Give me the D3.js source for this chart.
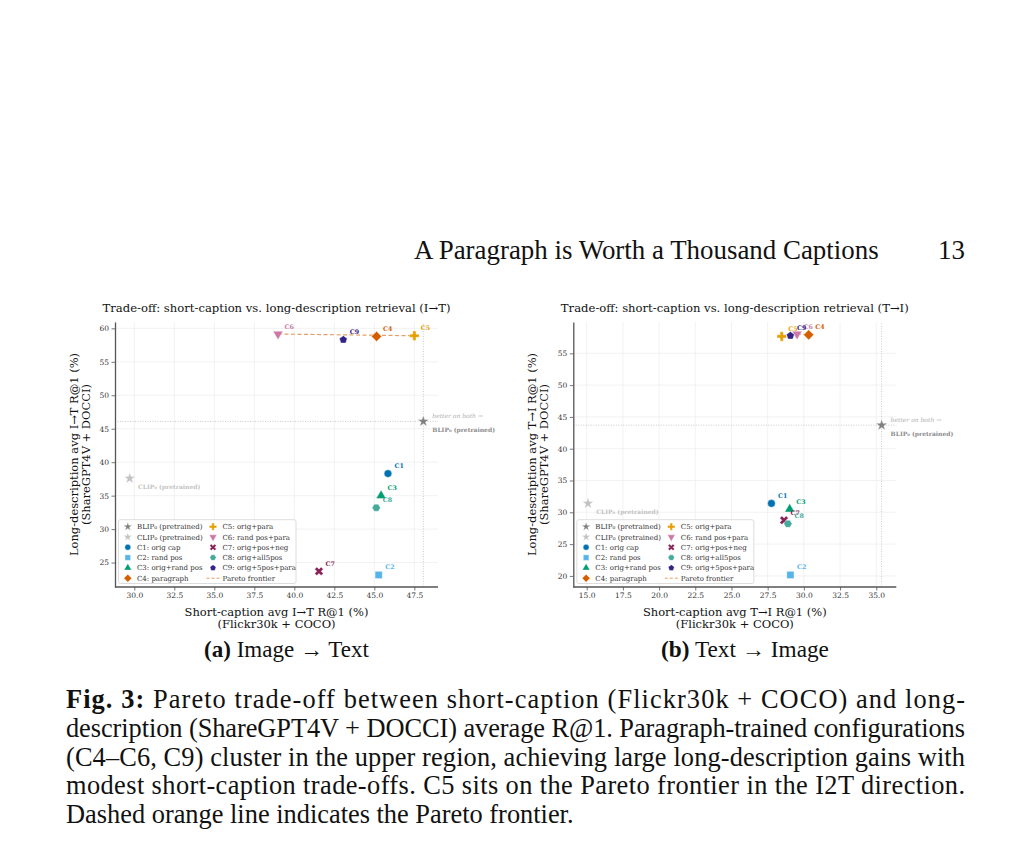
<!DOCTYPE html>
<html>
<head>
<meta charset="utf-8">
<script src="https://cdn.jsdelivr.net/npm/d3@7"></script>
<style>
  body { margin: 0; background: #fff; }
  svg { display: block; }
</style>
</head>
<body>
<div id="page"></div>
<script>
// ---- data ----
var configNames = ["C1", "C2", "C3", "C4", "C5", "C6", "C7", "C8", "C9"];
var configDescs = ["orig cap", "rand pos", "orig+rand pos", "paragraph", "orig+para",
                   "rand pos+para", "orig+pos+neg", "orig+all5pos", "orig+5pos+para"];

// (a) image -> text
var i2tShort = [45.85, 45.27, 45.42, 45.14, 47.50, 38.98, 41.54, 45.12, 43.06];
var i2tLong  = [38.30, 23.15, 35.00, 58.80, 58.90, 59.15, 23.70, 33.20, 58.30];
// (b) text -> image
var t2iShort = [27.76, 29.07, 29.02, 30.33, 28.47, 29.53, 28.63, 28.90, 29.07];
var t2iLong  = [31.40, 20.15, 30.50, 57.90, 57.66, 58.03, 28.75, 28.20, 57.77];

var baseNames = ["BLIP\u2080", "CLIP\u2080"];
var i2tBaseShort = [48.06, 29.71];
var i2tBaseLong  = [46.10, 37.58];
var t2iBaseShort = [35.37, 15.09];
var t2iBaseLong  = [43.70, 31.40];

var xTicksA = [30.0, 32.5, 35.0, 37.5, 40.0, 42.5, 45.0, 47.5];
var yTicksA = [25, 30, 35, 40, 45, 50, 55, 60];
var xTicksB = [15.0, 17.5, 20.0, 22.5, 25.0, 27.5, 30.0, 32.5, 35.0];
var yTicksB = [20, 25, 30, 35, 40, 45, 50, 55];

// ---- styles ----
var configColors = ["#0072B2", "#56B4E9", "#009E73", "#D55E00", "#E69F00",
                    "#CC79A7", "#882255", "#44AA99", "#332288"];
var baseColors = ["#808080", "#c2c2c2"];
var serif = "'DejaVu Serif', serif";
var pageFont = "'Liberation Serif', 'DejaVu Serif', serif";

// regular polygon symbol (pentagon / hexagon)
function polygon(n, startAngle) {
  return {
    draw: function(ctx, size) {
      var r = Math.sqrt(2 * size / (n * Math.sin(2 * Math.PI / n)));
      for (var i = 0; i < n; i++) {
        var a = startAngle + i * 2 * Math.PI / n;
        if (i === 0) ctx.moveTo(r * Math.sin(a), -r * Math.cos(a));
        else ctx.lineTo(r * Math.sin(a), -r * Math.cos(a));
      }
      ctx.closePath();
    }
  };
}

// marker for each config: type, rotation, size
var markers = [
  { type: d3.symbolCircle,   rot: 0,   size: 46 },
  { type: d3.symbolSquare,   rot: 0,   size: 52 },
  { type: d3.symbolTriangle, rot: 0,   size: 42 },
  { type: d3.symbolSquare,   rot: 45,  size: 52 },
  { type: d3.symbolCross,    rot: 0,   size: 50 },
  { type: d3.symbolTriangle, rot: 180, size: 42 },
  { type: d3.symbolCross,    rot: 45,  size: 46 },
  { type: polygon(6, Math.PI / 6), rot: 0, size: 44 },
  { type: polygon(5, 0),     rot: 0,   size: 40 }
];
var starMarker = { type: d3.symbolStar, rot: 0, size: 40 };

var W = 1030, H = 842;
var svg = d3.select("#page").append("svg").attr("width", W).attr("height", H);

function fitSize(sel, target) {
  var w = sel.node().getComputedTextLength();
  var fs = parseFloat(sel.attr("font-size"));
  sel.attr("font-size", fs * target / w);
  return fs * target / w;
}

function padExtent(vals) {
  var e = d3.extent(vals), p = (e[1] - e[0]) * 0.05;
  return [e[0] - p, e[1] + p];
}

function drawMarker(g, m, cx, cy, color, scale) {
  return g.append("path")
    .attr("d", d3.symbol().type(m.type).size(m.size * (scale || 1))())
    .attr("transform", "translate(" + cx + "," + cy + ") rotate(" + m.rot + ")")
    .attr("fill", color)
    .attr("stroke", "#fff")
    .attr("stroke-width", 0.4);
}

// Function to draw one panel
function drawPanel(p) {
  var g = svg.append("g");
  var top = 322, bottom = 587;
  var allX = p.shortV.concat(p.baseShort), allY = p.longV.concat(p.baseLong);
  var x = d3.scaleLinear().domain(padExtent(allX)).range([p.left, p.left + 323]);
  var y = d3.scaleLinear().domain(padExtent(allY)).range([bottom, top]);

  // grid
  g.selectAll(".gx").data(p.xTicks).enter().append("line")
    .attr("x1", function(d) { return x(d); }).attr("x2", function(d) { return x(d); })
    .attr("y1", bottom).attr("y2", top)
    .attr("stroke", "#ececec").attr("stroke-width", 0.7);
  g.selectAll(".gy").data(p.yTicks).enter().append("line")
    .attr("y1", function(d) { return y(d); }).attr("y2", function(d) { return y(d); })
    .attr("x1", p.left).attr("x2", p.left + 323)
    .attr("stroke", "#ececec").attr("stroke-width", 0.7);

  // dotted reference lines through BLIP
  g.append("line")
    .attr("x1", x(p.baseShort[0])).attr("x2", x(p.baseShort[0]))
    .attr("y1", bottom).attr("y2", top)
    .attr("stroke", "#b5b5b5").attr("stroke-width", 0.7).attr("stroke-dasharray", "1,1.5");
  g.append("line")
    .attr("y1", y(p.baseLong[0])).attr("y2", y(p.baseLong[0]))
    .attr("x1", p.left).attr("x2", p.left + 323)
    .attr("stroke", "#b5b5b5").attr("stroke-width", 0.7).attr("stroke-dasharray", "1,1.5");

  // pareto frontier among configs
  var pts = configNames.map(function(n, i) { return { i: i, sx: p.shortV[i], ly: p.longV[i] }; });
  var sorted = pts.slice().sort(function(a, b) { return b.sx - a.sx; });
  var best = -Infinity, front = [];
  sorted.forEach(function(d) { if (d.ly > best) { front.push(d); best = d.ly; } });
  front.sort(function(a, b) { return a.sx - b.sx; });
  g.append("path")
    .attr("d", d3.line().x(function(d) { return x(d.sx); }).y(function(d) { return y(d.ly); })(front))
    .attr("fill", "none").attr("stroke", "#D55E00").attr("stroke-opacity", 0.6)
    .attr("stroke-width", 1.2).attr("stroke-dasharray", "4,2.5");

  // axes
  var xAxis = g.append("g").attr("transform", "translate(0," + bottom + ")")
    .call(d3.axisBottom(x).tickValues(p.xTicks).tickFormat(d3.format(".1f"))
      .tickSize(3.5).tickSizeOuter(0).tickPadding(2.5));
  var yAxis = g.append("g").attr("transform", "translate(" + p.left + ",0)")
    .call(d3.axisLeft(y).tickValues(p.yTicks).tickFormat(d3.format("d"))
      .tickSize(3.5).tickSizeOuter(0).tickPadding(2.5));
  [xAxis, yAxis].forEach(function(a) {
    a.select(".domain").attr("stroke", "#555").attr("stroke-width", 1.3);
    a.selectAll(".tick line").attr("stroke", "#555").attr("stroke-width", 0.8);
    a.selectAll(".tick text").attr("font-family", serif).attr("font-size", 7.5).attr("fill", "#333");
  });
  xAxis.select(".domain").attr("d", "M" + p.left + ",0H" + (p.left + 323));

  // baselines (stars)
  p.baseShort.forEach(function(v, i) {
    drawMarker(g, starMarker, x(v), y(p.baseLong[i]), baseColors[i]);
  });
  // configs
  pts.forEach(function(d) {
    drawMarker(g, markers[d.i], x(d.sx), y(d.ly), configColors[d.i]);
  });
  // config labels
  pts.forEach(function(d) {
    g.append("text")
      .attr("x", x(d.sx) + 6.5).attr("y", y(d.ly) - 5.5)
      .attr("font-family", serif).attr("font-size", 6.3).attr("font-weight", "bold")
      .attr("fill", configColors[d.i])
      .text(configNames[d.i]);
  });
  // baseline annotations
  var bx = x(p.baseShort[0]), by = y(p.baseLong[0]);
  g.append("text").attr("x", bx + 9).attr("y", by - 3)
    .attr("font-family", serif).attr("font-size", 6).attr("font-style", "italic")
    .attr("fill", "#b0b0b0").text("better on both \u2192");
  g.append("text").attr("x", bx + 9).attr("y", by + 11)
    .attr("font-family", serif).attr("font-size", 6).attr("font-weight", "bold")
    .attr("fill", "#8a8a8a").text(baseNames[0] + " (pretrained)");
  var cx = x(p.baseShort[1]), cy = y(p.baseLong[1]);
  g.append("text").attr("x", cx + 8.3).attr("y", cy + 10.5)
    .attr("font-family", serif).attr("font-size", 6).attr("font-weight", "bold")
    .attr("fill", "#c2c2c2").text(baseNames[1] + " (pretrained)");

  // legend
  var lx = p.left + 3.5, ly = 519.7, lw = p.legendW, lh = 63.8;
  var leg = g.append("g");
  leg.append("rect").attr("x", lx).attr("y", ly).attr("width", lw).attr("height", lh)
    .attr("rx", 2).attr("fill", "#fff").attr("fill-opacity", 0.85)
    .attr("stroke", "#d4d4d4").attr("stroke-width", 0.8);
  var rowY = function(r) { return ly + 7 + r * 10.3; };
  var entries = [];
  baseNames.forEach(function(n, i) {
    entries.push({ m: starMarker, c: baseColors[i], t: n + " (pretrained)" });
  });
  configNames.forEach(function(n, i) {
    entries.push({ m: markers[i], c: configColors[i], t: n + ": " + configDescs[i] });
  });
  entries.push({ line: true, t: "Pareto frontier" });
  entries.forEach(function(e, k) {
    var col = k < 6 ? 0 : 1, row = k < 6 ? k : k - 6;
    var mx = lx + (col === 0 ? 9.3 : 94.5), tx = lx + (col === 0 ? 18.5 : 104);
    if (e.line) {
      leg.append("line").attr("x1", mx - 6.5).attr("x2", mx + 6.5)
        .attr("y1", rowY(row)).attr("y2", rowY(row))
        .attr("stroke", "#D55E00").attr("stroke-opacity", 0.6)
        .attr("stroke-width", 1).attr("stroke-dasharray", "3,2");
    } else {
      drawMarker(leg, e.m, mx, rowY(row), e.c, 0.6);
    }
    leg.append("text").attr("x", tx).attr("y", rowY(row) + 2.5)
      .attr("font-family", serif).attr("font-size", 7).attr("fill", "#333").text(e.t);
  });

  // title and axis labels
  var cxp = p.left + 161.5;
  var t = svg.append("text").attr("x", cxp).attr("y", 312).attr("text-anchor", "middle")
    .attr("font-family", serif).attr("font-size", 9.5).attr("fill", "#111").text(p.title);
  fitSize(t, 348);
  var xl1 = svg.append("text").attr("x", cxp).attr("y", 616).attr("text-anchor", "middle")
    .attr("font-family", serif).attr("font-size", 10).attr("fill", "#111").text(p.xlabel[0]);
  var fs = fitSize(xl1, 184);
  svg.append("text").attr("x", cxp).attr("y", 628).attr("text-anchor", "middle")
    .attr("font-family", serif).attr("font-size", fs).attr("fill", "#111").text(p.xlabel[1]);
  p.ylabel.forEach(function(s, i) {
    svg.append("text")
      .attr("transform", "translate(" + (p.left - 37.5 + i * 12) + "," + ((top + bottom) / 2) + ") rotate(-90)")
      .attr("text-anchor", "middle")
      .attr("font-family", serif).attr("font-size", fs).attr("fill", "#111").text(s);
  });
}

drawPanel({
  left: 115, shortV: i2tShort, longV: i2tLong, baseShort: i2tBaseShort, baseLong: i2tBaseLong,
  xTicks: xTicksA, yTicks: yTicksA, legendW: 177.5,
  title: "Trade-off: short-caption vs. long-description retrieval (I\u2192T)",
  xlabel: ["Short-caption avg I\u2192T R@1 (%)", "(Flickr30k + COCO)"],
  ylabel: ["Long-description avg I\u2192T R@1 (%)", "(ShareGPT4V + DOCCI)"]
});
drawPanel({
  left: 573.3, shortV: t2iShort, longV: t2iLong, baseShort: t2iBaseShort, baseLong: t2iBaseLong,
  xTicks: xTicksB, yTicks: yTicksB, legendW: 177,
  title: "Trade-off: short-caption vs. long-description retrieval (T\u2192I)",
  xlabel: ["Short-caption avg T\u2192I R@1 (%)", "(Flickr30k + COCO)"],
  ylabel: ["Long-description avg T\u2192I R@1 (%)", "(ShareGPT4V + DOCCI)"]
});

// ---- page text ----
var head = svg.append("text").attr("x", 414).attr("y", 259)
  .attr("font-family", pageFont).attr("font-size", 21).attr("fill", "#111")
  .text("A Paragraph is Worth a Thousand Captions");
fitSize(head, 465);
svg.append("text").attr("x", 965).attr("y", 259).attr("text-anchor", "end")
  .attr("font-family", pageFont).attr("font-size", head.attr("font-size")).attr("fill", "#111")
  .text("13");

function subCaption(cx, label, rest, width) {
  var t = svg.append("text").attr("x", cx).attr("y", 657).attr("text-anchor", "middle")
    .attr("font-family", pageFont).attr("font-size", 19).attr("fill", "#111");
  t.append("tspan").attr("font-weight", "bold").text(label);
  t.append("tspan").text(" " + rest);
  fitSize(t, width);
}
subCaption(286.5, "(a)", "Image \u2192 Text", 165);
subCaption(745, "(b)", "Text \u2192 Image", 168);

var capLines = [
  " Pareto trade-off between short-caption (Flickr30k + COCO) and long-",
  "description (ShareGPT4V + DOCCI) average R@1. Paragraph-trained configurations",
  "(C4\u2013C6, C9) cluster in the upper region, achieving large long-description gains with",
  "modest short-caption trade-offs. C5 sits on the Pareto frontier in the I2T direction.",
  "Dashed orange line indicates the Pareto frontier."
];
var last = svg.append("text").attr("x", 66).attr("y", 708 + 4 * 28.8)
  .attr("font-family", pageFont).attr("font-size", 22).attr("fill", "#111")
  .text(capLines[4]);
var capSize = fitSize(last, 508);
capLines.slice(0, 4).forEach(function(s, i) {
  var t = svg.append("text").attr("x", 66).attr("y", 708 + i * 28.8)
    .attr("font-family", pageFont).attr("font-size", capSize).attr("fill", "#111")
    .attr("textLength", 899).attr("lengthAdjust", "spacing");
  if (i === 0) t.append("tspan").attr("font-weight", "bold").text("Fig. 3:");
  t.append("tspan").text(s);
});
</script>
</body>
</html>
